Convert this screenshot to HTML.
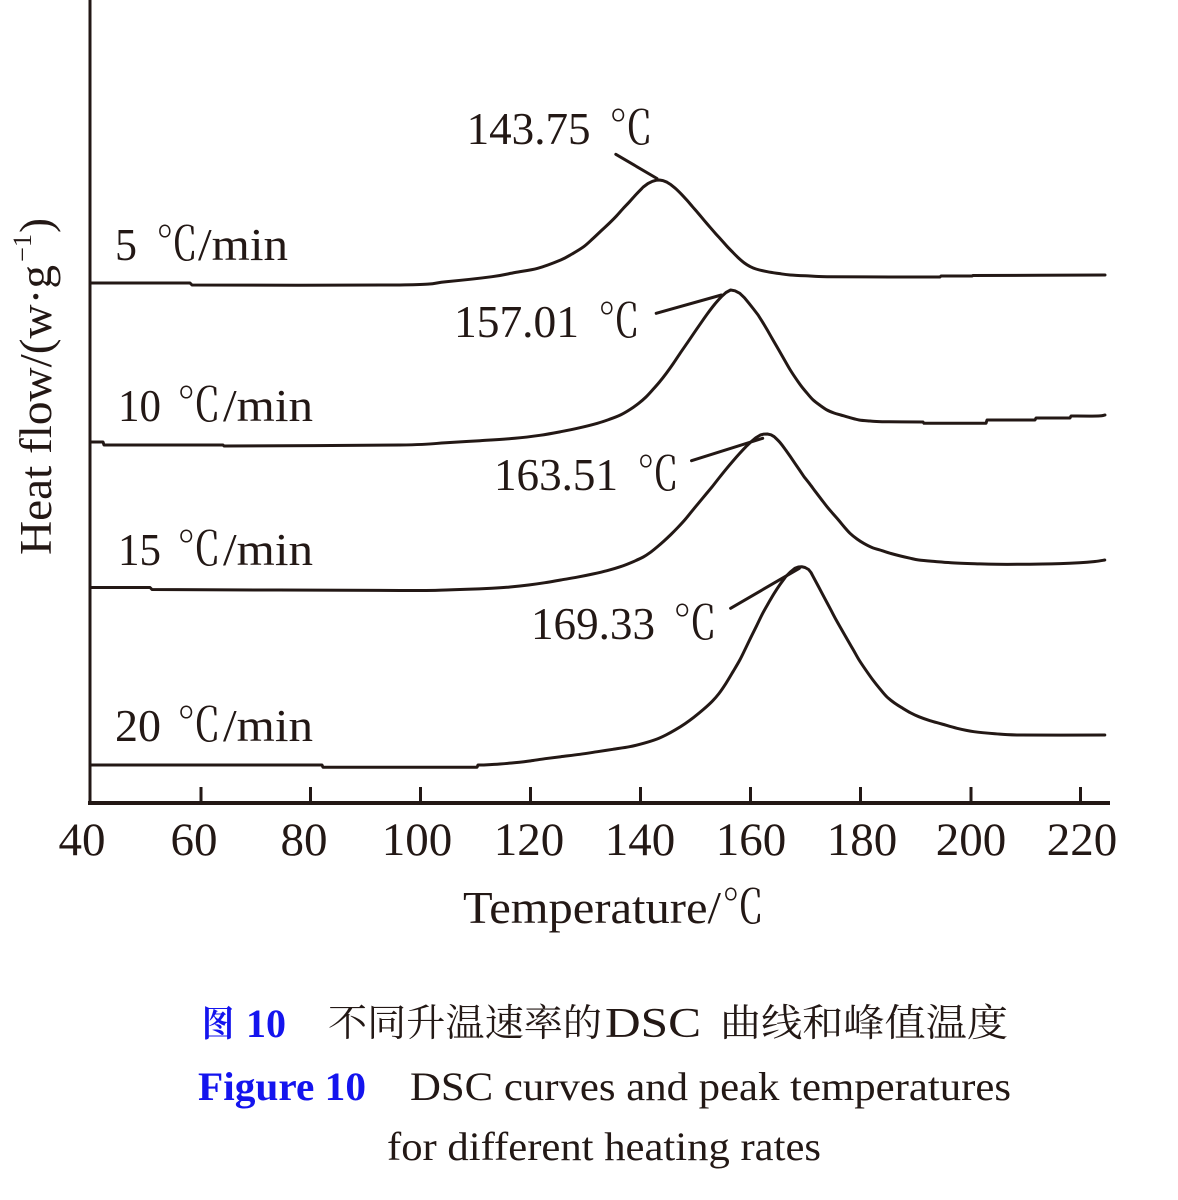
<!DOCTYPE html>
<html>
<head>
<meta charset="utf-8">
<style>
  html, body { margin: 0; padding: 0; background: #ffffff; }
  svg { display: block; }
  .t { font-family: "Liberation Serif", "Noto Serif CJK SC", serif; fill: #231815; }
  .c { font-family: "Noto Serif CJK SC", "Liberation Serif", serif; fill: #231815; }
  .cap { font-family: "Liberation Serif", "Noto Serif CJK SC", serif; fill: #231815; }
  .blue { fill: #1414ee; font-weight: bold; }
</style>
</head>
<body>
<svg id="chart" width="1178" height="1200" viewBox="0 0 1178 1200" xmlns="http://www.w3.org/2000/svg">
  <rect x="0" y="0" width="1178" height="1200" fill="#ffffff"/>

  <!-- Axes -->
  <line x1="90" y1="0" x2="90" y2="805" stroke="#231815" stroke-width="3"/>
  <line x1="88" y1="803" x2="1110" y2="803" stroke="#231815" stroke-width="4"/>
  <g stroke="#231815" stroke-width="3">
    <line x1="201" y1="787" x2="201" y2="803"/>
    <line x1="310.5" y1="787" x2="310.5" y2="803"/>
    <line x1="420.5" y1="787" x2="420.5" y2="803"/>
    <line x1="530.5" y1="787" x2="530.5" y2="803"/>
    <line x1="640.5" y1="787" x2="640.5" y2="803"/>
    <line x1="750.5" y1="787" x2="750.5" y2="803"/>
    <line x1="860.5" y1="787" x2="860.5" y2="803"/>
    <line x1="971" y1="787" x2="971" y2="803"/>
    <line x1="1080.5" y1="787" x2="1080.5" y2="803"/>
  </g>

  <!-- Tick labels -->
  <g class="t" font-size="47" text-anchor="middle">
    <text x="82" y="855">40</text>
    <text x="194" y="855">60</text>
    <text x="304" y="855">80</text>
    <text x="417" y="855">100</text>
    <text x="529" y="855">120</text>
    <text x="640" y="855">140</text>
    <text x="751" y="855">160</text>
    <text x="862" y="855">180</text>
    <text x="971" y="855">200</text>
    <text x="1082" y="855">220</text>
  </g>

  <!-- X axis title -->
  <text class="t" x="463" y="923" font-size="46" textLength="258" lengthAdjust="spacingAndGlyphs">Temperature/</text>
  <text class="c" x="722" y="923" font-size="46" textLength="42" lengthAdjust="spacingAndGlyphs">℃</text>

  <!-- Y axis title (rotated) -->
  <g transform="translate(51,555) rotate(-90)">
    <text class="t" x="0" y="0" font-size="45" textLength="290" lengthAdjust="spacingAndGlyphs">Heat flow/(w·g</text>
    <text class="t" x="293" y="-20" font-size="26" textLength="28" lengthAdjust="spacingAndGlyphs">−1</text>
    <text class="t" x="322" y="0" font-size="45" textLength="15" lengthAdjust="spacingAndGlyphs">)</text>
  </g>

  <!-- Curves -->
  <g id="curves" fill="none" stroke="#231815" stroke-width="3" stroke-linejoin="round" stroke-linecap="round">
    <!-- 5 C/min -->
    <polyline class="sm" points="91,283 190,283 192,285 400,285 446,281.7 492,276.7 515,272.5 537.7,268.3 560.7,260 572,254 583.7,246.7 593,238.5 602,230 609,223.5 615.8,216.7 622.7,209 629.6,201.7 636.5,194 643.3,187 648,183.5 652.5,181.3 656,180.3 659.4,180 663,180.6 667,182.2 671,184.8 675.5,188.4 681,193.8 687,200.3 692.5,206.7 698.4,213.5 704,220.2 710,227.2 715.7,233.7 721.4,240 727,246.3 733,252.5 738.5,258 744.4,263 750,266.5 756,269 767.3,271.7 778.8,273.5 790.3,275 810,276 827,276.7 900,277 940,277 941,276 972,276 973,275.5 1105,275"/>
    <!-- 10 C/min -->
    <polyline class="sm" points="91,442 103,442 104,445 223,445 224,446 400,445 445.9,442.7 480,440.7 514.8,438.3 540,435.3 560.7,431.7 580,427.7 597.4,423.3 609,419.5 620.4,415 630,409.5 638.7,403.3 646,397 652.5,390 659.5,382 666.3,373.3 673.3,363.5 680.1,353.3 687,343.3 693.8,333.3 700.7,323.3 707.6,313.5 714.5,304.5 721.4,296.7 726,292.5 730.6,290 735,290.8 739.8,293.3 744.5,297.8 749,303.3 753.5,309 758.1,315 762.7,322.3 767.3,330 773,340 778.8,350 784.5,360 790.3,370 796,378.7 801.7,386.7 807.5,393.7 813.2,400 820,405.3 827,410 834,413 840.8,415 850,417.7 859.1,420 870,421 882.1,421.7 923,422 924,423.3 986,423.3 987,420 1035,420 1036,418 1070,418 1071,416 1098,416 1105,415"/>
    <!-- 15 C/min -->
    <polyline class="sm" points="91,587.5 150,587.5 152,589.5 400,590.5 445.9,590 491.8,588.3 510,587 528.6,585 545,582.7 560.7,580 577,577.2 592.8,574 607,570.7 620.4,566.7 632,562.2 643.3,557 650.5,552.3 657.1,547 664,541 670.9,534.5 677.8,527.5 684.7,520 691.5,511.7 698.4,503.3 705.3,495 712.2,486.7 719,478 726,469.3 733,461 739.8,453.3 745.5,447.2 751.2,441.7 755.8,437.8 760.4,435 764,434.1 767.3,434 771,434.8 774.2,436.7 780,442.5 785.7,450 790.3,456.5 794.9,463.3 799.5,470 804,476.7 810,484.3 815.5,491.7 821.3,499.3 827,506.7 832.8,513.5 838.5,520 844.3,527 850,533.3 857,539 863.7,543.3 872,547.5 882.1,550.7 891,553.5 900.5,556 910,558.2 918.8,560 935,561.5 951,562.7 975,563.7 996.9,564.3 1042.8,564 1079.5,562.7 1095,561.5 1104.8,560"/>
    <!-- 20 C/min -->
    <polyline class="sm" points="91,765 322,765 323,767.3 477,767.3 478,765 482.6,765 500,764 524,761.7 533,760.5 545,758.7 560.7,756.7 580,754.3 597.4,751.7 613,749.3 629.6,746.7 644,743.2 657.1,739 666.5,734.7 675.5,729.7 685,723.7 693.8,717.3 703,709.8 712.2,701.3 719,693.5 726,683.3 733,671.7 739.8,660 745.5,648.5 751.2,636.7 757,625 762.7,613.3 768.5,603 774.2,593.3 780,584.5 785.7,576.7 790.3,572 794.9,568.3 798.3,567 801.7,566.7 805,567.5 808.6,569.5 811,572.5 813.2,576.7 819,587.5 824.7,598.3 830.5,609.2 836.2,620 842,630.2 847.6,640 853.4,650 859.1,660 866,670.3 872.9,680 879.8,688.7 886.7,696.7 894.5,703 902.8,708.3 910.5,712.8 918.8,716.7 930,720.7 941.8,724 957,728.3 974,731.7 995,733.7 1019.9,735 1104.8,735"/>
    <!-- leader lines -->
    <line x1="615.8" y1="154.3" x2="657" y2="178.5"/>
    <line x1="656.2" y1="313.3" x2="721.4" y2="295"/>
    <line x1="691.5" y1="460.7" x2="762.7" y2="438.3"/>
    <line x1="730.6" y1="608.3" x2="799.4" y2="568.3"/>
  </g>

  <!-- Peak labels -->
  <g font-size="46">
    <text class="t" x="466.6" y="144" textLength="124" lengthAdjust="spacingAndGlyphs">143.75</text>
    <text class="c" x="609" y="144" textLength="44" lengthAdjust="spacingAndGlyphs">℃</text>
    <text class="t" x="454" y="337" textLength="125" lengthAdjust="spacingAndGlyphs">157.01</text>
    <text class="c" x="598" y="337" textLength="42" lengthAdjust="spacingAndGlyphs">℃</text>
    <text class="t" x="494" y="490" textLength="124" lengthAdjust="spacingAndGlyphs">163.51</text>
    <text class="c" x="637" y="490" textLength="42" lengthAdjust="spacingAndGlyphs">℃</text>
    <text class="t" x="531" y="639" textLength="124" lengthAdjust="spacingAndGlyphs">169.33</text>
    <text class="c" x="673" y="639" textLength="44" lengthAdjust="spacingAndGlyphs">℃</text>
  </g>

  <!-- Heating-rate labels -->
  <g font-size="46">
    <text class="t" x="115" y="260" textLength="22" lengthAdjust="spacingAndGlyphs">5</text>
    <text class="c" x="156" y="260" textLength="42" lengthAdjust="spacingAndGlyphs">℃</text>
    <text class="t" x="198" y="260" textLength="90" lengthAdjust="spacingAndGlyphs">/min</text>

    <text class="t" x="118" y="421" textLength="43" lengthAdjust="spacingAndGlyphs">10</text>
    <text class="c" x="177" y="421" textLength="44" lengthAdjust="spacingAndGlyphs">℃</text>
    <text class="t" x="223" y="421" textLength="90" lengthAdjust="spacingAndGlyphs">/min</text>

    <text class="t" x="118" y="565" textLength="43" lengthAdjust="spacingAndGlyphs">15</text>
    <text class="c" x="177" y="565" textLength="44" lengthAdjust="spacingAndGlyphs">℃</text>
    <text class="t" x="223" y="565" textLength="90" lengthAdjust="spacingAndGlyphs">/min</text>

    <text class="t" x="115" y="741" textLength="46" lengthAdjust="spacingAndGlyphs">20</text>
    <text class="c" x="177" y="741" textLength="44" lengthAdjust="spacingAndGlyphs">℃</text>
    <text class="t" x="223" y="741" textLength="90" lengthAdjust="spacingAndGlyphs">/min</text>
  </g>

  <!-- Caption -->
  <text class="c blue" x="202" y="1036" font-size="36" textLength="32" lengthAdjust="spacingAndGlyphs">图</text>
  <text class="cap blue" x="246" y="1037" font-size="40" textLength="40" lengthAdjust="spacingAndGlyphs">10</text>
  <text class="c" x="328" y="1036" font-size="38" textLength="274" lengthAdjust="spacingAndGlyphs">不同升温速率的</text>
  <text class="cap" x="605" y="1037" font-size="42" textLength="96" lengthAdjust="spacingAndGlyphs">DSC</text>
  <text class="c" x="720" y="1036" font-size="38" textLength="288" lengthAdjust="spacingAndGlyphs">曲线和峰值温度</text>

  <text class="cap blue" x="198" y="1100" font-size="40" textLength="168" lengthAdjust="spacingAndGlyphs">Figure 10</text>
  <text class="cap" x="410" y="1100" font-size="40" textLength="601" lengthAdjust="spacingAndGlyphs">DSC curves and peak temperatures</text>
  <text class="cap" x="387" y="1160" font-size="40" textLength="434" lengthAdjust="spacingAndGlyphs">for different heating rates</text>
</svg>
<script>
(function () {
  var NS = "http://www.w3.org/2000/svg";
  var lines = document.querySelectorAll("polyline.sm");
  for (var k = 0; k < lines.length; k++) {
    var pl = lines[k];
    var raw = pl.getAttribute("points").trim().split(/\s+/);
    var p = raw.map(function (s) { var a = s.split(","); return [parseFloat(a[0]), parseFloat(a[1])]; });
    function d(a, b) { return Math.abs(b[0] - a[0]); }
    var s = "M" + p[0][0] + "," + p[0][1];
    for (var i = 0; i < p.length - 1; i++) {
      var p1 = p[i], p2 = p[i + 1];
      if (d(p1, p2) < 5) { s += " L" + p2[0] + "," + p2[1]; continue; }
      var p0 = (i > 0 && d(p[i - 1], p1) >= 5) ? p[i - 1] : p1;
      var p3 = (i + 2 < p.length && d(p2, p[i + 2]) >= 5) ? p[i + 2] : p2;
      var c1x = p1[0] + (p2[0] - p0[0]) / 6, c1y = p1[1] + (p2[1] - p0[1]) / 6;
      var c2x = p2[0] - (p3[0] - p1[0]) / 6, c2y = p2[1] - (p3[1] - p1[1]) / 6;
      s += " C" + c1x.toFixed(2) + "," + c1y.toFixed(2) + " " + c2x.toFixed(2) + "," + c2y.toFixed(2) + " " + p2[0] + "," + p2[1];
    }
    var path = document.createElementNS(NS, "path");
    path.setAttribute("d", s);
    pl.parentNode.replaceChild(path, pl);
  }
})();
</script>
</body>
</html>
